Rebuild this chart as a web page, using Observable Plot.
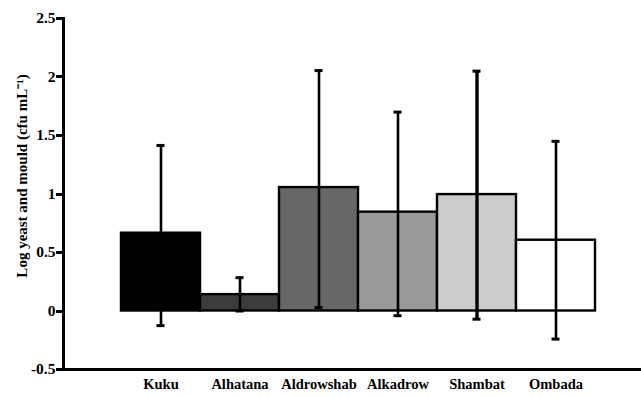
<!DOCTYPE html>
<html>
<head>
<meta charset="utf-8">
<script src="https://cdn.jsdelivr.net/npm/d3@7"></script>
<script src="https://cdn.jsdelivr.net/npm/@observablehq/plot@0.6"></script>
<style>
  html, body { margin: 0; padding: 0; background: #fff; }
  svg { display: block; }
  #chart svg, #chart svg text { font-family: "Liberation Serif", "Times New Roman", serif !important; }
</style>
</head>
<body>
<div id="chart"></div>
<script>
const categories = ["Kuku", "Alhatana", "Aldrowshab", "Alkadrow", "Shambat", "Ombada"];
const means = [0.665, 0.14, 1.055, 0.845, 0.995, 0.605];
const errLow = [-0.125, 0.0, 0.03, -0.04, -0.07, -0.24];
const errHigh = [1.415, 0.285, 2.055, 1.70, 2.05, 1.45];
const fills = ["#000000", "#3c3c3c", "#676767", "#999999", "#cccccc", "#ffffff"];
const yTicks = [-0.5, 0, 0.5, 1, 1.5, 2, 2.5];
const yLabel = "Log yeast and mould (cfu mL\u207B\u00B9)";

const data = categories.map((c, i) => ({
  cat: c, mean: means[i], lo: errLow[i], hi: errHigh[i], fill: fills[i]
}));

const font = "Liberation Serif";

// axis lines and y tick marks drawn as filled rectangles along the frame's left and bottom edges
function axisLines(index, scales, values, dims) {
  const ns = "http://www.w3.org/2000/svg";
  const g = document.createElementNS(ns, "g");
  const add = (x, y, w, h) => {
    const r = document.createElementNS(ns, "rect");
    r.setAttribute("x", Math.round(x));
    r.setAttribute("y", Math.round(y));
    r.setAttribute("width", Math.round(w));
    r.setAttribute("height", Math.round(h));
    r.setAttribute("fill", "#000");
    r.setAttribute("shape-rendering", "crispEdges");
    g.appendChild(r);
  };
  const yb = scales.y(yTicks[0]);
  const yt = scales.y(yTicks[yTicks.length - 1]);
  const xl = dims.marginLeft;
  const xr = dims.width - dims.marginRight;
  add(xl - 1.5, yt - 1.5, 3, yb - yt + 3);     // left axis
  add(xl - 1.5, yb - 1.5, xr - xl + 1.5, 3);   // bottom axis
  for (const t of yTicks) add(xl - 7, scales.y(t) - 1, 6, 2.5); // tick marks
  return g;
}

const chart = Plot.plot({
  width: 641,
  height: 397,
  marginLeft: 63,
  marginRight: 0,
  marginTop: 18,
  marginBottom: 28,
  style: { fontFamily: font, fontSize: "14px", color: "#000", background: "#fff" },
  x: { domain: categories, paddingInner: 0, paddingOuter: 0.658, align: 0.558, label: null },
  y: { domain: [-0.5, 2.5], ticks: yTicks, label: null },
  marks: [
    Plot.barY(data, { x: "cat", y1: 0, y2: "mean", fill: "fill", stroke: "#000", strokeWidth: 2.4, inset: 0 }),
    Plot.ruleX(data, { x: "cat", y1: "lo", y2: "hi", stroke: "#000", strokeWidth: d => d.cat === "Shambat" ? 3.4 : 2.6 }),
    Plot.tickY(data, { x: "cat", y: "hi", stroke: "#000", strokeWidth: 3, insetLeft: 35.5, insetRight: 35.5 }),
    Plot.tickY(data, { x: "cat", y: "lo", stroke: "#000", strokeWidth: 3, insetLeft: 35.5, insetRight: 35.5 }),
    Plot.axisY({ ticks: yTicks, tickSize: 0, tickPadding: 8, tickFormat: d => String(d), label: null, fontWeight: "bold", fontFamily: font, fontSize: 15.5 }),
    Plot.axisX({ tickSize: 0, tickPadding: 9, label: null, fontWeight: "bold", fontFamily: font, fontSize: 14.5 }),
    Plot.text([yLabel], { frameAnchor: "left", textAnchor: "middle", rotate: -90, dx: -41, dy: -18, fontSize: 15, fontWeight: "bold", fontFamily: font, fill: "#000" }),
    axisLines
  ]
});

document.getElementById("chart").appendChild(chart);
</script>
</body>
</html>
